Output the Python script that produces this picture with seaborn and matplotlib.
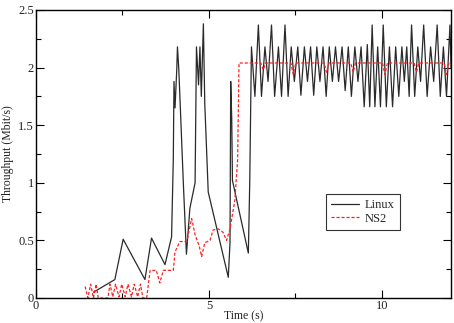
import numpy as np
import pandas as pd
import matplotlib
matplotlib.use("Agg")
import matplotlib.pyplot as plt
import seaborn as sns
from matplotlib.ticker import MultipleLocator

# ---- data ----
linux_t = [1.66, 2.28, 2.52, 3.15, 3.34, 3.73, 3.92, 3.97, 3.99, 4.02, 4.07, 4.09, 4.13,
           4.26, 4.35, 4.45, 4.60, 4.64, 4.70, 4.74, 4.78, 4.84, 4.88, 4.98, 5.56, 5.61,
           5.63, 5.66, 5.68, 6.14, 6.18,
           6.23, 6.33, 6.43, 6.52, 6.62, 6.71, 6.81, 6.90, 7.01, 7.10, 7.20, 7.29, 7.38,
           7.47, 7.57, 7.66, 7.76, 7.85, 7.94, 8.03, 8.12, 8.21, 8.30, 8.39, 8.48, 8.57,
           8.66, 8.75, 8.85, 8.94, 9.03, 9.12, 9.22, 9.31, 9.40, 9.49, 9.58, 9.65, 9.72,
           9.80, 9.88, 9.96, 10.04, 10.13, 10.22, 10.31, 10.40, 10.49, 10.58, 10.65, 10.72,
           10.79, 10.86, 10.95, 11.04, 11.12, 11.21, 11.31, 11.41, 11.50, 11.60, 11.69,
           11.78, 11.87, 11.97, 12.00]
linux_y = [0.05, 0.16, 0.51, 0.16, 0.52, 0.29, 0.53, 1.20, 1.88, 1.65, 1.98, 2.18, 1.98,
           1.00, 0.38, 0.78, 1.00, 2.18, 1.85, 2.18, 1.75, 2.38, 1.69, 0.92, 0.18, 0.48,
           1.88, 1.55, 1.02, 0.39, 1.00,
           2.18, 1.75, 2.37, 1.75, 2.18, 1.88, 2.37, 1.75, 2.18, 1.75, 2.37, 1.75, 2.18,
           1.88, 2.18, 1.76, 2.18, 1.88, 2.18, 1.76, 2.18, 1.88, 2.18, 1.75, 2.18, 1.88,
           2.18, 1.88, 2.18, 1.80, 2.18, 1.75, 2.18, 1.88, 2.18, 1.66, 2.20, 1.66, 2.37,
           1.66, 2.18, 1.66, 2.37, 1.66, 2.18, 1.66, 2.18, 1.75, 2.18, 1.88, 2.18,
           1.75, 2.37, 1.75, 2.18, 1.88, 2.37, 1.75, 2.18, 1.88, 2.37, 1.75,
           2.18, 1.75, 2.37, 2.00]

ns2_t = [1.42, 1.50, 1.58, 1.66, 1.74, 1.80, 2.08, 2.14, 2.22, 2.30, 2.40, 2.48, 2.58,
         2.66, 2.76, 2.84, 2.94, 3.02, 3.09, 3.20, 3.30, 3.48, 3.58, 3.68, 3.97, 4.02,
         4.16, 4.36, 4.50, 4.60, 4.72, 4.79, 4.88, 5.03, 5.12, 5.27, 5.41, 5.51, 5.61,
         5.75, 5.83, 5.87,
         6.50, 6.57, 6.64, 7.37, 7.44, 7.51, 8.33, 8.40, 8.47, 9.10, 9.17, 9.24,
         10.02, 10.09, 10.16, 10.93, 11.00, 11.07, 11.80, 11.87, 11.94, 12.00]
ns2_y = [0.10, 0.00, 0.12, 0.00, 0.12, 0.00, 0.00, 0.12, 0.01, 0.12, 0.01, 0.12, 0.01,
         0.12, 0.01, 0.12, 0.01, 0.12, 0.00, 0.00, 0.24, 0.24, 0.13, 0.24, 0.24, 0.40,
         0.49, 0.49, 0.69, 0.55, 0.45, 0.36, 0.48, 0.50, 0.59, 0.60, 0.57, 0.50, 0.60,
         0.85, 1.20, 2.04,
         2.04, 1.98, 2.04, 2.04, 1.94, 2.04, 2.04, 1.96, 2.04, 2.04, 1.96, 2.04,
         2.04, 1.94, 2.04, 2.04, 1.96, 2.04, 2.04, 1.94, 2.04, 2.04]

x_ticks = [0, 5, 10]
y_ticks = [0, 0.5, 1, 1.5, 2, 2.5]
y_tick_labels = ["0", "0.5", "1", "1.5", "2", "2.5"]

# ---- theme ----
sns.set_theme(style="ticks")
plt.rcParams['font.family'] = ['Liberation Serif', 'DejaVu Serif']
plt.rcParams['xtick.direction'] = 'in'
plt.rcParams['ytick.direction'] = 'in'

fig = plt.figure(figsize=(4.54, 3.23), dpi=100)
ax = fig.add_axes([36 / 454, 25 / 323, 415 / 454, 288 / 323])

sns.lineplot(x=linux_t, y=linux_y, sort=False, estimator=None, ax=ax,
             color="#2a2a2a", linewidth=0.9, label="Linux")
sns.lineplot(x=ns2_t, y=ns2_y, sort=False, estimator=None, ax=ax,
             color="#ff2020", linewidth=0.9, dashes=False, label="NS2")
ax.lines[1].set_dashes((2.5, 1.5))

ax.set_xlim(0, 12)
ax.set_ylim(0, 2.5)
ax.set_xticks(x_ticks)
ax.set_yticks(y_ticks)
ax.set_yticklabels(y_tick_labels)
ax.xaxis.set_minor_locator(MultipleLocator(2.5))
ax.yaxis.set_minor_locator(MultipleLocator(0.25))
ax.tick_params(which='both', top=True, right=True, labelsize=9, pad=1.5,
               color='black', labelcolor='#222222')
ax.tick_params(which='major', length=6, width=0.8)
ax.tick_params(which='minor', length=3.5, width=0.8)
for s in ax.spines.values():
    s.set_color('black')
    s.set_linewidth(1.0)

ax.set_xlabel("Time (s)", fontsize=8.5, color='#222222')
ax.xaxis.set_label_coords(0.5, -0.042)
ax.set_ylabel("Throughput (Mbit/s)", fontsize=8.5, labelpad=3, color='#222222')

leg = ax.legend(loc='upper left', bbox_to_anchor=(0.699, 0.36), fontsize=9,
                frameon=True, fancybox=False, borderpad=0.4, handlelength=2.2,
                handletextpad=0.5, labelspacing=0.1, borderaxespad=0)
leg.get_frame().set_edgecolor('black')
leg.get_frame().set_linewidth(0.8)

fig.savefig("out.png", dpi=100)
